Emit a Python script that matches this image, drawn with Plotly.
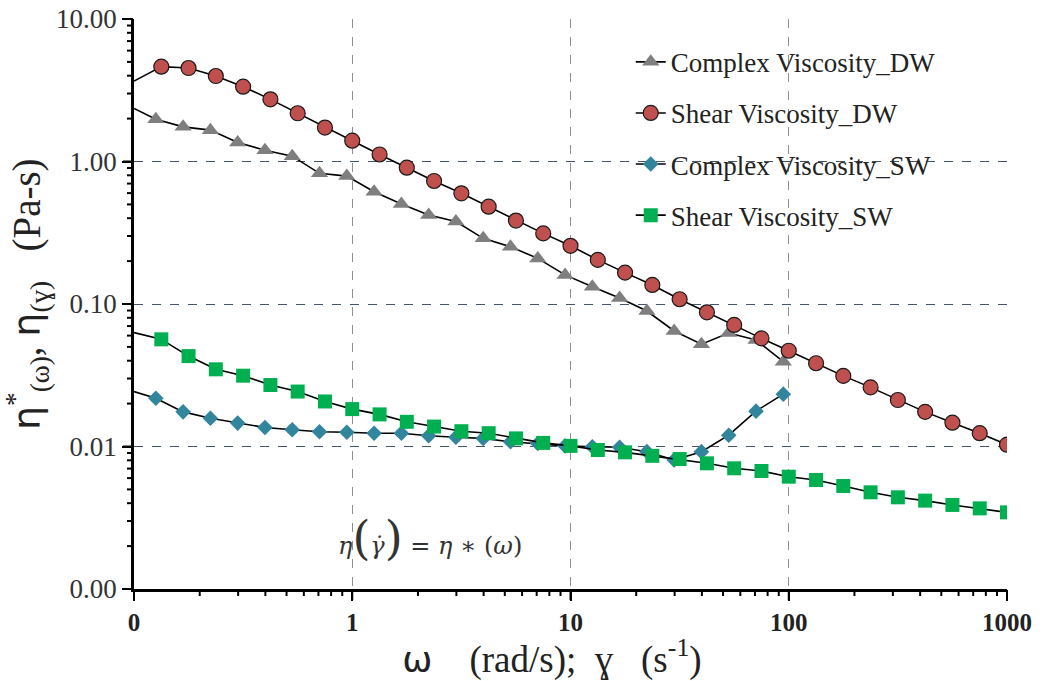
import math
import plotly.graph_objects as go

# ---------------- data ----------------
# shear-rate grid (8 points per decade)
shear_x = [0.1334, 0.1778, 0.2371, 0.3162, 0.4217, 0.5623, 0.7499, 1.0,
           1.334, 1.778, 2.371, 3.162, 4.217, 5.623, 7.499, 10.0,
           13.34, 17.78, 23.71, 31.62, 42.17, 56.23, 74.99, 100.0,
           133.4, 177.8, 237.1, 316.2, 421.7, 562.3, 749.9, 1000.0]
# oscillatory frequency grid
osc_x = [0.1259, 0.1679, 0.2239, 0.2985, 0.3981, 0.5309, 0.7079, 0.9441,
         1.259, 1.679, 2.239, 2.985, 3.981, 5.309, 7.079, 9.441,
         12.59, 16.79, 22.39, 29.85, 39.81, 53.09, 70.79, 94.41]

complex_dw = [1.98, 1.75, 1.66, 1.36, 1.20, 1.09, 0.826, 0.79,
              0.614, 0.504, 0.421, 0.379, 0.289, 0.252, 0.209, 0.16,
              0.132, 0.11, 0.0893, 0.0647, 0.0522, 0.0625, 0.0559, 0.0394]
shear_dw = [4.63, 4.53, 3.98, 3.35, 2.73, 2.18, 1.73, 1.40,
            1.12, 0.905, 0.73, 0.598, 0.482, 0.385, 0.313, 0.256,
            0.204, 0.166, 0.136, 0.108, 0.0874, 0.0713, 0.0574, 0.047,
            0.0384, 0.0313, 0.026, 0.0212, 0.0175, 0.0147, 0.0124, 0.0103]
complex_sw = [0.0218, 0.0175, 0.0158, 0.0146, 0.0136, 0.0131, 0.0127, 0.0126,
              0.0124, 0.0124, 0.0119, 0.0116, 0.0114, 0.0108, 0.0105, 0.0101,
              0.00997, 0.00987, 0.0092, 0.00804, 0.0092, 0.012, 0.0177, 0.0233]
shear_sw = [0.0565, 0.0431, 0.0348, 0.0314, 0.027, 0.0243, 0.0207, 0.0183,
            0.0168, 0.0149, 0.0138, 0.0128, 0.0124, 0.0114, 0.0106, 0.0101,
            0.00945, 0.0091, 0.0086, 0.00816, 0.00762, 0.00703, 0.00673, 0.00614,
            0.00582, 0.00528, 0.00477, 0.0044, 0.00417, 0.00389, 0.00368, 0.00345]

# value of each connecting line where it meets the y-axis (x = 0.1)
axis_x = 0.1
start_complex_dw = 2.36
start_shear_dw = 3.67
start_complex_sw = 0.0243
start_shear_sw = 0.063

x_tickvals = [0.1, 1, 10, 100, 1000]
x_ticktext = ["0", "1", "10", "100", "1000"]
y_tickvals = [0.001, 0.01, 0.1, 1, 10]
y_ticktext = ["0.00", "0.01", "0.10", "1.00", "10.00"]
minor_mult = [2, 3, 4, 5, 6, 7, 8, 9]

X_RANGE = [math.log10(x_tickvals[0]), math.log10(x_tickvals[-1])]
Y_RANGE = [math.log10(y_tickvals[0]), math.log10(y_tickvals[-1])]

W, H = 1043, 681
ML, MR, MT, MB = 134, 36, 19, 92
PW, PH = W - ML - MR, H - MT - MB

series = [
    ("Complex Viscosity_DW", osc_x, complex_dw, start_complex_dw,
     dict(symbol="triangle-up", size=15, color="#7F7F7F", line=dict(width=0))),
    ("Shear Viscosity_DW", shear_x, shear_dw, start_shear_dw,
     dict(symbol="circle", size=15, color="#C0504D", line=dict(width=1.2, color="#1a1a1a"))),
    ("Complex Viscosity_SW", osc_x, complex_sw, start_complex_sw,
     dict(symbol="diamond", size=12, color="#31859C", line=dict(width=0))),
    ("Shear Viscosity_SW", shear_x, shear_sw, start_shear_sw,
     dict(symbol="square", size=14, color="#00B050", line=dict(width=0))),
]

SERIF = "Liberation Serif"

fig = go.Figure()
for i, (name, xs, ys, y0, mk) in enumerate(series):
    fig.add_trace(go.Scatter(
        x=[axis_x, xs[0]], y=[y0, ys[0]], mode="lines",
        line=dict(color="black", width=1.6), showlegend=False, hoverinfo="skip"))
    fig.add_trace(go.Scatter(
        x=xs, y=ys, mode="lines+markers", name=name, legendgroup=f"g{i}",
        line=dict(color="black", width=1.6), marker=mk))


def frac(v, rng):
    return (math.log10(v) - rng[0]) / (rng[1] - rng[0])


# axis tick marks as paper-referenced line shapes just outside the axis lines
ticks_x = [(v, 10) for v in x_tickvals] + \
          [(v * m, 6) for v in x_tickvals[:-1] for m in minor_mult]
ticks_y = [(v, 10) for v in y_tickvals] + \
          [(v * m, 6) for v in y_tickvals[:-1] for m in minor_mult]

for v, ln in ticks_x:
    fx = frac(v, X_RANGE)
    fig.add_shape(type="line", xref="paper", yref="paper",
                  x0=fx, x1=fx, y0=-1.0 / PH, y1=-(1.0 + ln) / PH,
                  line=dict(color="black", width=2), layer="above")
for v, ln in ticks_y:
    fy = frac(v, Y_RANGE)
    fig.add_shape(type="line", xref="paper", yref="paper",
                  y0=fy, y1=fy, x0=-1.0 / PW, x1=-(1.0 + ln) / PW,
                  line=dict(color="black", width=2), layer="above")

fig.update_layout(
    template="none",
    width=W, height=H,
    margin=dict(l=ML, r=MR, t=MT, b=MB, autoexpand=False),
    paper_bgcolor="white", plot_bgcolor="white",
    font=dict(family=SERIF, color="#222222"),
    legend=dict(x=0.569, y=0.967, xanchor="left", yanchor="top",
                bgcolor="rgba(0,0,0,0)", font=dict(family=SERIF, size=27, color="#222222"),
                tracegroupgap=13, itemwidth=30),
    xaxis=dict(
        type="log", range=X_RANGE, automargin=False,
        tickmode="array", tickvals=x_tickvals,
        ticktext=["<b>" + t + "</b>" for t in x_ticktext],
        tickfont=dict(family=SERIF, size=25, color="#222222"),
        ticks="outside", ticklen=9, tickwidth=2, tickcolor="black",
        showline=True, linecolor="black", linewidth=2.5,
        showgrid=True, gridcolor="#8f8f8f", griddash="dash", gridwidth=1,
        zeroline=False,
        title=dict(text="<span style='font-family:DejaVu Sans;font-size:36px'>ω</span>"
                        "    (rad/s);  ɣ   (s<sup>-1</sup>)&nbsp;&nbsp;&nbsp;&nbsp;",
                   font=dict(family=SERIF, size=37, color="#222222"), standoff=2),
    ),
    yaxis=dict(
        type="log", range=Y_RANGE, automargin=False,
        tickmode="array", tickvals=y_tickvals, ticktext=y_ticktext,
        tickfont=dict(family=SERIF, size=27, color="#333333"),
        ticks="outside", ticklen=9, tickwidth=2, tickcolor="black",
        showline=True, linecolor="black", linewidth=2.5,
        showgrid=True, gridcolor="#44546A", griddash="dash", gridwidth=1,
        zeroline=False,
        title=dict(text="&nbsp;&nbsp;<span style='font-family:DejaVu Sans;font-size:38px'>η</span><sup>*</sup><sub>(ω)</sub>, "
                        "<span style='font-family:DejaVu Sans;font-size:38px'>η</span><sub>(ɣ)</sub>   (Pa-s)",
                   font=dict(family=SERIF, size=39, color="#222222"), standoff=4),
    ),
)

fig.add_annotation(
    x=0.356, y=-2.645, xref="x", yref="y", showarrow=False,
    text="<i>η</i><span style='font-size:46px'>(</span><i>γ̇</i>"
         "<span style='font-size:46px'>)</span> = <i>η</i> ∗ (<i>ω</i>)",
    font=dict(family="DejaVu Serif", size=24, color="#333333"))

fig.write_html("out.html")
